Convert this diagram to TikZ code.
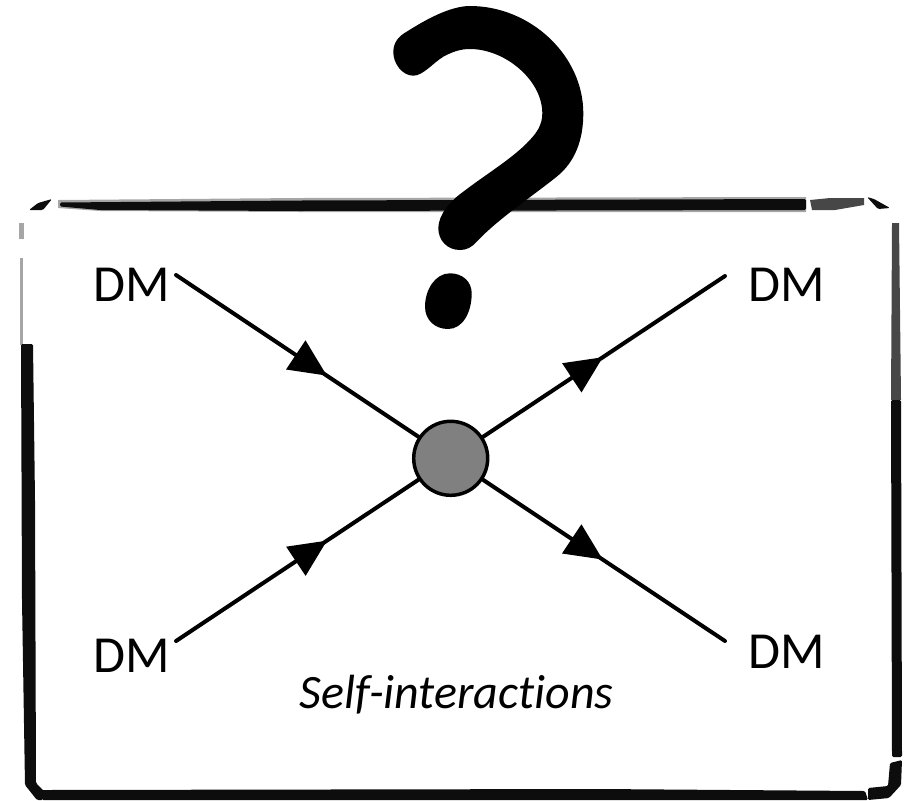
\documentclass[tikz,border=0pt]{standalone}
\usepackage{fontspec}
\setmainfont[Ligatures=NoCommon]{Carlito}
\usetikzlibrary{arrows.meta,decorations.markings}
\tikzset{
  x=0.75pt,y=-0.75pt,
  dmlabel/.style={anchor=base,inner sep=0pt,font=\fontsize{39}{41}\selectfont},
  caption/.style={anchor=base,inner sep=0pt,font=\fontsize{36}{38}\selectfont\itshape},
  blob/.style={circle,draw=black,line width=2.6pt,fill=black!50,minimum size=55.5pt,inner sep=0pt},
  fermion/.style={line width=3pt,line cap=round},
  headat/.style={postaction={decorate},decoration={markings,
    mark=at position #1 with {\arrow{Triangle[length=28pt,width=25.5pt]}}}},
  frameink/.style={fill=black!95,draw=none,rounded corners=1pt},
  framepale/.style={fill=black!35,draw=none},
  framemid/.style={fill=black!72,draw=none},
  qmark/.style={fill=black,draw=none}
}
\begin{document}
\begin{tikzpicture}
\useasboundingbox (0,0) rectangle (905,800);
% hand-sketched frame
\fill[framepale] (58,200) -- (300,198) -- (806,197) -- (806,212) -- (300,212) -- (100,211) -- (58,208) -- cycle;
\fill[frameink] (60,202.5) -- (300,200.5) -- (806,199) -- (806,210) -- (300,211) -- (100,210) -- (60,206.5) -- cycle;
\fill[framemid] (810,200) -- (830,198) -- (864,198) -- (864,205) -- (835,210) -- (812,210) -- cycle;
\fill[frameink] (29,210) -- (38,203) -- (52,199) -- (43,210) -- cycle;
\fill[frameink] (867,197) -- (874,199) -- (890,208) -- (878,209) -- cycle;
\fill[framepale] (19,223) rectangle (23.5,239);
\fill[framepale] (20,258) rectangle (23,345);
\fill[frameink] (21,344) -- (33,344) -- (35,500) -- (36,783) -- (44,791) -- (43,800) -- (37,800) -- (25,785) -- (22,600) -- cycle;
\fill[frameink] (42,790) -- (600,789) -- (865,791) -- (868,800) -- (42,800) -- cycle;
\fill[framemid] (892,223) -- (899,223) -- (901,400) -- (891,400) -- cycle;
\fill[frameink] (891,400) -- (901,400) -- (902,757) -- (892,757) -- cycle;
\fill[frameink] (890,763) -- (902,760) -- (901,785) -- (889,798) -- (868,800) -- (868,788) -- (888,786) -- cycle;
% vertex and lines
\node[blob] (c) at (450.7,458.3) {};
\coordinate (tl) at (176,275);
\coordinate (bl) at (176,641);
\coordinate (tr) at (725,276);
\coordinate (br) at (725,641);
\draw[fermion,headat=136pt] (tl) -- (c);
\draw[fermion,headat=136pt] (bl) -- (c);
\draw[fermion,headat=108pt] (c) -- (tr);
\draw[fermion,headat=108pt] (c) -- (br);
% labels
\node[dmlabel] (dmtl) at (132,301) {DM};
\node[dmlabel] (dmbl) at (132,672) {DM};
\node[dmlabel] (dmtr) at (787,301) {DM};
\node[dmlabel] (dmbr) at (787,668) {DM};
\node[caption] (cap) at (456.5,708) {Self-interactions};
% question mark
\fill[qmark] (393.3,51.7) .. controls (393.5,42) and (399,36) .. (406.7,31.7)
  .. controls (425,20) and (450,6) .. (470,6)
  .. controls (530,6) and (583.3,55) .. (583.3,113.3)
  .. controls (583.3,140) and (575,162) .. (556.7,176.7)
  .. controls (530,198) and (498,219) .. (476.7,241.7)
  .. controls (472,247) and (467,250) .. (460,250)
  .. controls (447,250) and (438.3,240) .. (438.3,228.3)
  .. controls (438.3,215) and (450,201) .. (463.3,191.7)
  .. controls (485,175) and (510,160) .. (526.7,143.3)
  .. controls (537,133) and (542.3,125) .. (542.3,113.3)
  .. controls (542.3,80) and (505,49) .. (470,49)
  .. controls (460,49) and (452,52) .. (443.3,56.7)
  .. controls (433,63) and (423,75.7) .. (413.3,75.7)
  .. controls (402,75.7) and (393,63) .. (393.3,51.7) -- cycle;
\fill[qmark] (425,306.7) .. controls (425,290) and (435,273.3) .. (450,273.3)
  .. controls (463,273.3) and (471.7,282) .. (471.7,293.3)
  .. controls (471.7,312) and (463,329) .. (448,329)
  .. controls (435,329) and (425,320) .. (425,306.7) -- cycle;
\end{tikzpicture}
\end{document}
